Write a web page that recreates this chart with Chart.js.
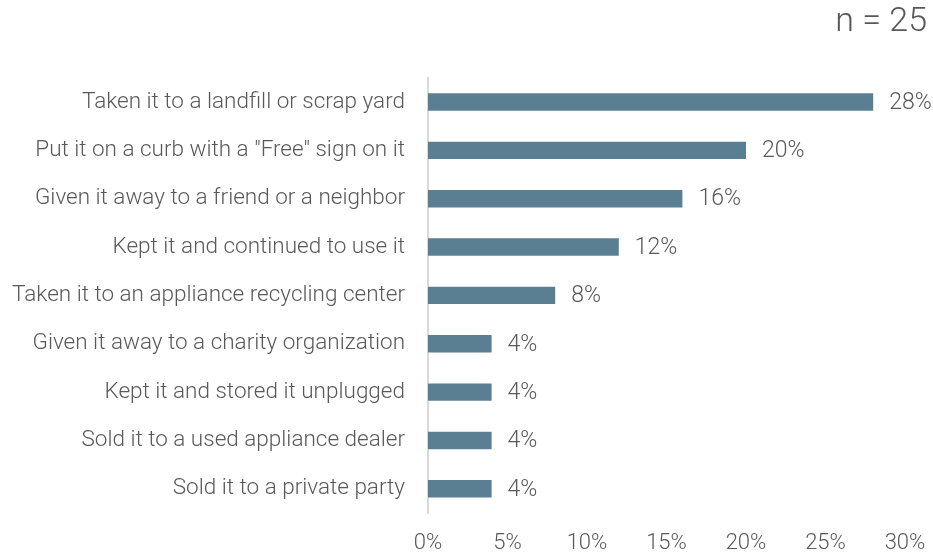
<!DOCTYPE html>
<html>
<head>
<meta charset="utf-8">
<script src="https://cdn.jsdelivr.net/npm/chart.js@4.4.1/dist/chart.umd.min.js"></script>
<style>
  html, body { margin: 0; padding: 0; background: #fff; }
  #chart { display: block; }
</style>
</head>
<body>
<canvas id="chart" width="933" height="556"></canvas>
<script>
const categories = [
  'Taken it to a landfill or scrap yard',
  'Put it on a curb with a "Free" sign on it',
  'Given it away to a friend or a neighbor',
  'Kept it and continued to use it',
  'Taken it to an appliance recycling center',
  'Given it away to a charity organization',
  'Kept it and stored it unplugged',
  'Sold it to a used appliance dealer',
  'Sold it to a private party'
];
const shares = [28, 20, 16, 12, 8, 4, 4, 4, 4];
const xTicks = [0, 5, 10, 15, 20, 25, 30];
const sampleLabel = 'n = 25';

const textColor = '#595959';
const fontFamily = 'Roboto, "Open Sans", sans-serif';

// percent labels just past the end of each bar
const barLabels = {
  id: 'barLabels',
  afterDatasetsDraw(chart) {
    const ctx = chart.ctx;
    const meta = chart.getDatasetMeta(0);
    ctx.save();
    ctx.font = '300 23px ' + fontFamily;
    ctx.fillStyle = textColor;
    ctx.textAlign = 'left';
    ctx.textBaseline = 'middle';
    meta.data.forEach((bar, i) => {
      ctx.fillText(shares[i] + '%', bar.x + 16, bar.y + 1);
    });
    ctx.restore();
  }
};

new Chart(document.getElementById('chart'), {
  type: 'bar',
  data: {
    labels: categories,
    datasets: [{
      data: shares,
      backgroundColor: '#5b7f92',
      barPercentage: 0.36,
      categoryPercentage: 1
    }]
  },
  options: {
    indexAxis: 'y',
    responsive: false,
    animation: false,
    layout: { padding: { left: 12, right: 6, top: 0, bottom: 0 } },
    plugins: {
      legend: { display: false },
      tooltip: { enabled: false },
      title: {
        display: true,
        text: sampleLabel,
        align: 'end',
        color: textColor,
        font: { family: fontFamily, size: 34, weight: '300' },
        padding: { top: 2, bottom: 35 }
      }
    },
    scales: {
      x: {
        min: 0,
        max: 30,
        afterBuildTicks: (scale) => { scale.ticks = xTicks.map(v => ({ value: v })); },
        afterFit: (scale) => { scale.height = 43; scale.paddingRight = 28; },
        grid: { display: false, drawTicks: false },
        border: { display: false },
        ticks: {
          color: textColor,
          font: { family: fontFamily, size: 22, weight: '300' },
          padding: 17,
          maxRotation: 0,
          callback: (v) => v + '%'
        }
      },
      y: {
        afterFit: (scale) => { scale.width = 416; scale.paddingTop = 0; scale.paddingBottom = 0; },
        grid: { display: false, drawTicks: false },
        border: { display: true, color: '#d9d9d9', width: 2 },
        ticks: {
          color: textColor,
          font: { family: fontFamily, size: 22.5, weight: '300' },
          padding: 23
        }
      }
    }
  },
  plugins: [barLabels]
});
</script>
</body>
</html>
